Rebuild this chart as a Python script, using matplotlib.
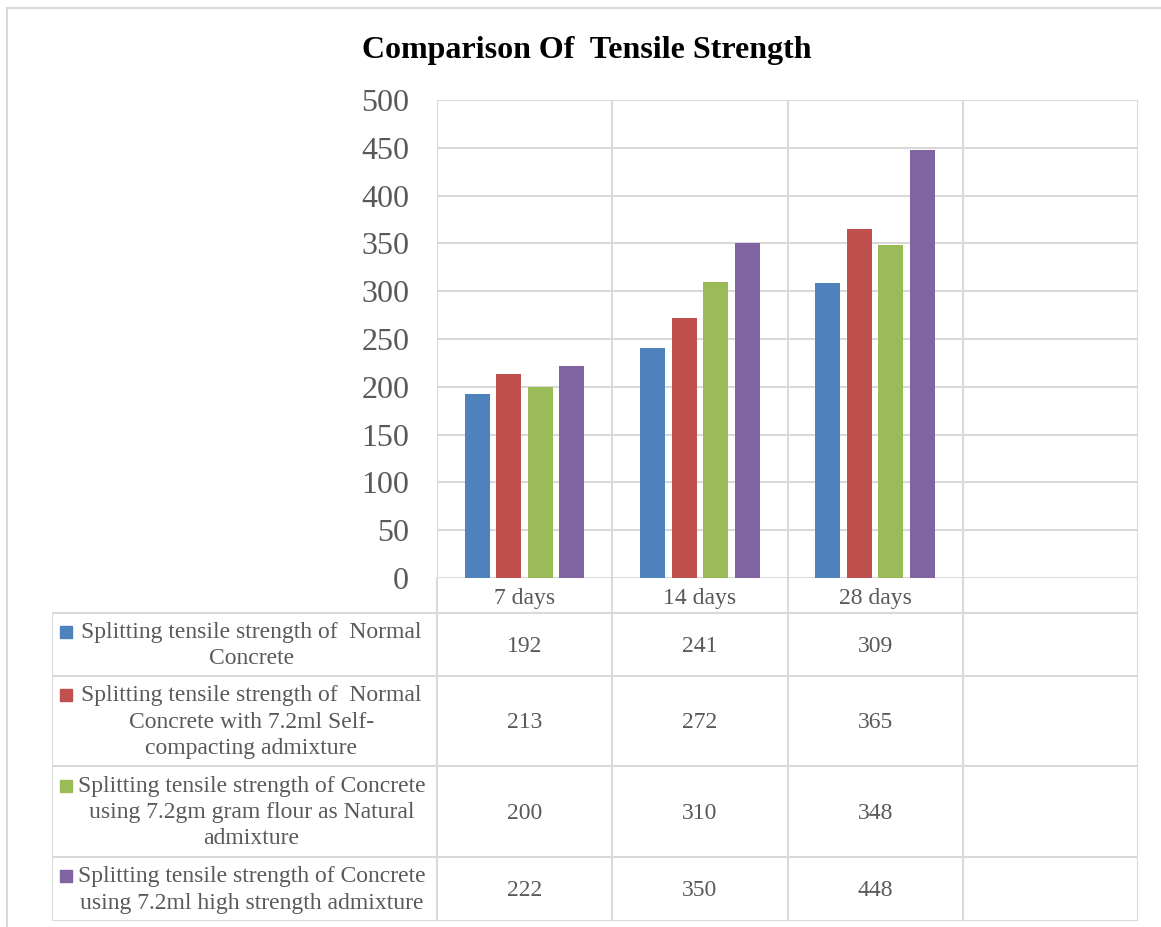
import numpy as np
import matplotlib.pyplot as plt
from matplotlib.patches import Rectangle

# Datos de resistencia a la traccion
categorias = ['7 days', '14 days', '28 days', '']
series = [
    'Splitting tensile strength of  Normal\nConcrete',
    'Splitting tensile strength of  Normal\nConcrete with 7.2ml Self-\ncompacting admixture',
    'Splitting tensile strength of Concrete\nusing 7.2gm gram flour as Natural\nadmixture',
    'Splitting tensile strength of Concrete\nusing 7.2ml high strength admixture',
]
normal = [192, 241, 309]
self_compacting = [213, 272, 365]
gram_flour = [200, 310, 348]
high_strength = [222, 350, 448]
valores = [normal, self_compacting, gram_flour, high_strength]
colores = ['#4F81BD', '#C0504D', '#9BBB59', '#8064A2']

plt.rcParams['font.family'] = ['Liberation Serif', 'DejaVu Serif']
gris = '#595959'
linea = '#d9d9d9'

W, H = 1161, 927
fig = plt.figure(figsize=(W / 100, H / 100), dpi=100)

# Marco exterior del grafico
fig.add_artist(plt.Line2D([7 / W, 7 / W], [0, 1 - 8 / H], color=linea, lw=1.5))
fig.add_artist(plt.Line2D([7 / W, 1], [1 - 8 / H, 1 - 8 / H], color=linea, lw=1.5))

# Area de barras
x0, x1, y0, y1 = 437, 1138, 100, 578
ax = fig.add_axes([x0 / W, 1 - y1 / H, (x1 - x0) / W, (y1 - y0) / H])
n_cat = len(categorias)
ax.set_xlim(0, n_cat)
ax.set_ylim(0, 500)
ancho = 0.143
paso = 0.18
centros = np.arange(len(normal)) + 0.5
for i, (vals, col) in enumerate(zip(valores, colores)):
    ax.bar(centros + (i - 1.5) * paso, vals, width=ancho, color=col, zorder=3)

ax.set_yticks(np.arange(0, 501, 50))
ax.tick_params(axis='y', length=0, labelsize=23, labelcolor=gris, pad=20)
ax.set_xticks([])
ax.yaxis.grid(True, color=linea, lw=1.5, zorder=0)
for xv in range(n_cat + 1):
    ax.axvline(xv, color=linea, lw=1.5, zorder=1)
for s in ax.spines.values():
    s.set_visible(False)

ax.set_title('Comparison Of  Tensile Strength', fontsize=23, fontweight='bold',
             pad=30, x=0.214)

# Tabla de datos debajo del grafico
t_left, t_bottom = 52, 921
escala = (x1 - x0) / n_cat  # pixeles por categoria
ta = fig.add_axes([t_left / W, 1 - t_bottom / H, (x1 - t_left) / W, (t_bottom - y1) / H])
ta.set_xlim(-(x0 - t_left) / escala, n_cat)
ta.set_ylim(t_bottom, y1)
ta.axis('off')

filas = [578, 613, 676, 766, 857, 921]
izq = -(x0 - t_left) / escala

# fila de categorias
for j, cat in enumerate(categorias):
    ta.text(j + 0.5, (filas[0] + filas[1]) / 2 + 3, cat, ha='center', va='center',
            fontsize=17, color=gris)
ta.plot([0, n_cat], [filas[1], filas[1]], color=linea, lw=1.5)
ta.plot([izq, n_cat], [filas[-1], filas[-1]], color=linea, lw=1.5)
for k in range(1, len(filas) - 1):
    ta.plot([izq, n_cat], [filas[k], filas[k]], color=linea, lw=1.5)
for xv in range(n_cat + 1):
    ta.plot([xv, xv], [filas[0], filas[-1]], color=linea, lw=1.5)
ta.plot([izq, izq], [filas[1], filas[-1]], color=linea, lw=1.5)

lh = 26  # altura de linea en pixeles
for i, (nombre, vals, col) in enumerate(zip(series, valores, colores)):
    top, bot = filas[i + 1], filas[i + 2]
    cy = (top + bot) / 2
    ta.text(izq / 2 + 7 / escala, cy + 1, nombre, ha='center', va='center', fontsize=17,
            color=gris, linespacing=1.34, multialignment='center')
    nl = nombre.count('\n') + 1
    sq_y = cy - (nl - 1) * lh / 2
    ta.add_patch(Rectangle((izq + 8 / escala, sq_y - 6), 12 / escala, 12,
                           color=col, clip_on=False))
    for j, v in enumerate(vals):
        ta.text(j + 0.5, cy + 2, str(v), ha='center', va='center', fontsize=17, color=gris)

fig.savefig('out.png', dpi=100)
